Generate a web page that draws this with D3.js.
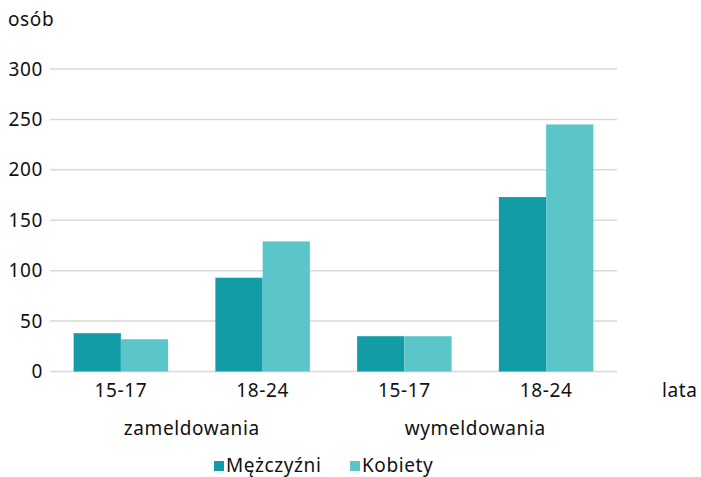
<!DOCTYPE html>
<html>
<head>
<meta charset="utf-8">
<script src="https://cdn.jsdelivr.net/npm/d3@7"></script>
<style>
  body { margin: 0; background: #fff; }
  text { font-family: "Noto Sans", sans-serif; fill: #111; letter-spacing: 0.6px; }
</style>
</head>
<body>
<div id="chart"></div>
<script>
// data
var groups = ["zameldowania", "wymeldowania"];
var ages = ["15-17", "18-24"];
var series = ["Mężczyźni", "Kobiety"];
var menValues = [38, 93, 35, 173];
var womenValues = [32, 129, 35, 245];
var yTicks = [0, 50, 100, 150, 200, 250, 300];
var colors = ["#119ca6", "#5bc6ca"];

var width = 701, height = 477;
var margin = { left: 50, right: 84, top: 69, bottom: 106 };
var fs = 19;

var svg = d3.select("#chart").append("svg")
  .attr("width", width)
  .attr("height", height);

// one row per category (group + age)
var cats = [];
groups.forEach(function(g) {
  ages.forEach(function(a) { cats.push(g + "|" + a); });
});

var x = d3.scaleBand()
  .domain(cats)
  .range([margin.left, width - margin.right]);

var xInner = d3.scaleBand()
  .domain(series)
  .range([0, x.bandwidth()])
  .paddingOuter(0.5)
  .paddingInner(0);

var y = d3.scaleLinear()
  .domain([0, 300])
  .range([height - margin.bottom + 0.5, margin.top]);

// gridlines
svg.append("g").selectAll("line")
  .data(yTicks)
  .enter().append("line")
  .attr("x1", margin.left)
  .attr("x2", width - margin.right)
  .attr("y1", function(d) { return y(d); })
  .attr("y2", function(d) { return y(d); })
  .attr("stroke", "#d9d9d9")
  .attr("stroke-width", 1.5);

// y tick labels
svg.append("g").selectAll("text")
  .data(yTicks)
  .enter().append("text")
  .attr("x", 43)
  .attr("y", function(d) { return y(d); })
  .attr("dy", "0.35em")
  .attr("text-anchor", "end")
  .style("font-size", fs + "px")
  .text(function(d) { return d; });

// bars
var rows = cats.map(function(c, i) {
  return { cat: c, values: [menValues[i], womenValues[i]] };
});

var bars = svg.append("g").selectAll("g")
  .data(rows)
  .enter().append("g")
  .attr("transform", function(d) { return "translate(" + x(d.cat) + ",0)"; });

bars.selectAll("rect")
  .data(function(d) { return d.values.map(function(v, j) { return { s: series[j], v: v, j: j }; }); })
  .enter().append("rect")
  .attr("x", function(d) { return xInner(d.s); })
  .attr("width", xInner.bandwidth())
  .attr("y", function(d) { return y(d.v); })
  .attr("height", function(d) { return y(0) - y(d.v); })
  .attr("fill", function(d) { return colors[d.j]; });

// x labels: ages
svg.append("g").selectAll("text")
  .data(cats)
  .enter().append("text")
  .attr("x", function(d) { return x(d) + x.bandwidth() / 2; })
  .attr("y", 397)
  .attr("text-anchor", "middle")
  .style("font-size", fs + "px")
  .text(function(d) { return d.split("|")[1]; });

// x labels: groups
svg.append("g").selectAll("text")
  .data(groups)
  .enter().append("text")
  .attr("x", function(g) { return x(g + "|" + ages[0]) + x.bandwidth(); })
  .attr("y", 435)
  .attr("text-anchor", "middle")
  .style("font-size", fs + "px")
  .text(function(d) { return d; });

// axis titles
svg.append("text")
  .attr("x", 8)
  .attr("y", 26)
  .style("font-size", fs + "px")
  .text("osób");

svg.append("text")
  .attr("x", 662)
  .attr("y", 397)
  .style("font-size", fs + "px")
  .text("lata");

// legend
var legendX = [214, 350];
var legend = svg.append("g").selectAll("g")
  .data(series)
  .enter().append("g")
  .attr("transform", function(d, i) { return "translate(" + legendX[i] + ",461)"; });

legend.append("rect")
  .attr("width", 10)
  .attr("height", 10)
  .attr("fill", function(d, i) { return colors[i]; });

legend.append("text")
  .attr("x", 12)
  .attr("y", 11)
  .style("font-size", fs + "px")
  .text(function(d) { return d; });
</script>
</body>
</html>
